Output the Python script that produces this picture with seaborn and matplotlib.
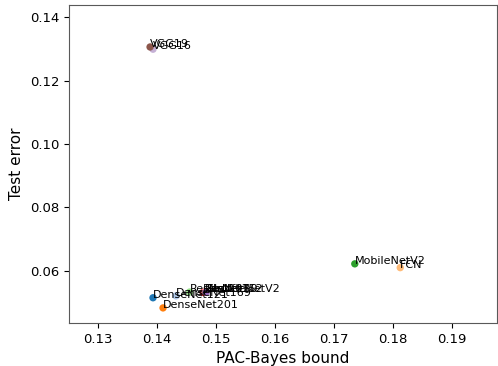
import pandas as pd
import matplotlib
matplotlib.use('Agg')
import matplotlib.pyplot as plt
import seaborn as sns

# models and their values
models = ['DenseNet121', 'DenseNet169', 'DenseNet201', 'FCN', 'MobileNetV2',
          'ResNet101', 'ResNet152', 'ResNet50', 'ShuffleNetV2', 'VGG16', 'VGG19']
pac_bayes = [0.1393, 0.1432, 0.1410, 0.1812, 0.1735,
             0.1455, 0.1478, 0.1481, 0.1483, 0.1393, 0.1388]
test_error = [0.0515, 0.0521, 0.0483, 0.0610, 0.0622,
              0.0533, 0.0532, 0.0534, 0.0533, 0.1299, 0.1306]

df = pd.DataFrame({'model': models, 'bound': pac_bayes, 'error': test_error})

fig, ax = plt.subplots(figsize=(4.98, 3.66), dpi=100)
sns.scatterplot(data=df, x='bound', y='error', hue='model', palette='tab20',
                s=28, edgecolor='none', legend=False, ax=ax)

for _, row in df.iterrows():
    ax.text(row['bound'], row['error'], row['model'], fontsize=8)

ax.set_xlim(0.1251, 0.1976)
ax.set_ylim(0.0436, 0.1438)
ax.set_xlabel('PAC-Bayes bound', fontsize=11)
ax.set_ylabel('Test error', fontsize=11)
ax.tick_params(labelsize=9.5)
for sp in ax.spines.values():
    sp.set_color('0.35')

plt.subplots_adjust(left=0.139, right=0.998, top=0.986, bottom=0.118)
plt.savefig('out.png', dpi=100)
plt.close()
